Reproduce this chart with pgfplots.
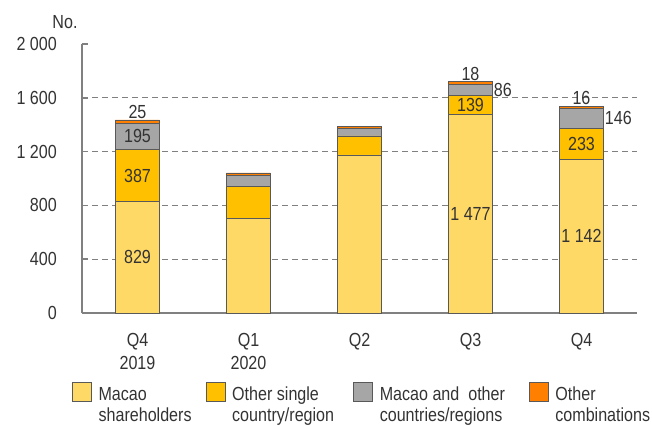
\documentclass[border=0pt]{standalone}
\usepackage{pgfplots}
\pgfplotsset{compat=1.18}
\usepackage{fontspec}
\setmainfont{Liberation Sans}[FakeStretch=0.85]

\definecolor{cMacao}{HTML}{FFD966}
\definecolor{cSingle}{HTML}{FFC000}
\definecolor{cMix}{HTML}{A6A6A6}
\definecolor{cOther}{HTML}{FF8000}
\definecolor{axisgray}{HTML}{808080}
\definecolor{txt}{HTML}{333333}

\newcommand{\lgd}[2]{\parbox[t]{#1}{\raggedright #2}}

\begin{document}
\begin{tikzpicture}[font=\fontsize{19}{23}\selectfont, text=txt]
\useasboundingbox (-82bp,-113bp) rectangle (570bp,313bp);
\begin{axis}[
    at={(0,0)}, anchor=south west,
    scale only axis,
    width=555bp, height=269bp,
    ybar stacked,
    bar width=44bp,
    xmin=-0.5, xmax=4.5,
    ymin=0, ymax=2000,
    axis lines=left,
    axis line style={axisgray, line width=2.2pt, -},
    every tick/.style={axisgray, line width=1.5pt},
    tick align=inside,
    xtick={0,1,2,3,4},
    xticklabels={{Q4\\2019},{Q1\\2020},Q2,Q3,Q4},
    x tick label style={align=center, anchor=north, inner sep=0pt, yshift=-20bp},
    xtick style={draw=none},
    extra x ticks={0.5,1.5,2.5,3.5,4.5},
    extra x tick labels={},
    extra x tick style={major tick length=5bp, tick style={axisgray, line width=1.5pt}},
    ytick={0,400,800,1200,1600,2000},
    major tick length=6bp,
    y tick label style={anchor=east, inner sep=0pt, xshift=-25bp},
    /pgf/number format/1000 sep={\ },
    /pgf/number format/assume math mode=true,
    extra y ticks={400,800,1200,1600},
    extra y tick labels={},
    extra y tick style={grid=major, major tick length=0pt},
    major grid style={axisgray, line width=1.2pt, dash pattern=on 6bp off 4bp},
    legend columns=4,
    legend style={at={(-10bp,-69bp)}, anchor=north west, draw=none, fill=none,
        inner sep=0pt, outer sep=0pt,
        font=\fontsize{19}{21}\selectfont,
        /tikz/every odd column/.append style={column sep=7bp},
        /tikz/every even column/.append style={column sep=0bp},
        nodes={inner sep=0pt, anchor=base west}},
    legend image code/.code={\draw[#1, line width=0.6pt] (0bp,-1bp) rectangle (19bp,18bp);},
]
\addplot[fill=cMacao, draw=black!65, line width=0.7pt] coordinates {(0,829) (1,706) (2,1175) (3,1477) (4,1142)};
\addplot[fill=cSingle, draw=black!65, line width=0.7pt] coordinates {(0,387) (1,232) (2,141) (3,139) (4,233)};
\addplot[fill=cMix, draw=black!65, line width=0.7pt] coordinates {(0,195) (1,82) (2,59) (3,86) (4,146)};
\addplot[fill=cOther, draw=black!65, line width=0.7pt] coordinates {(0,25) (1,22) (2,12) (3,18) (4,16)};
\legend{{\lgd{107bp}{Macao\\shareholders}},{\lgd{121bp}{Other single\\country/region}},{\lgd{149bp}{Macao and\ \ other\\countries/regions}},{\lgd{100bp}{Other\\combinations}}}

\coordinate (a1) at (axis cs:0,414);
\coordinate (a2) at (axis cs:0,1022);
\coordinate (a3) at (axis cs:0,1314);
\coordinate (a4) at (axis cs:0,1436);
\coordinate (b1) at (axis cs:3,738);
\coordinate (b2) at (axis cs:3,1546);
\coordinate (b3) at (axis cs:3.2,1659);
\coordinate (b4) at (axis cs:3,1720);
\coordinate (c1) at (axis cs:4,571);
\coordinate (c2) at (axis cs:4,1258);
\coordinate (c3) at (axis cs:4.2,1448);
\coordinate (c4) at (axis cs:4,1537);
\end{axis}
\node at (a1) {829};
\node at (a2) {387};
\node at (a3) {195};
\node[anchor=south, inner sep=1bp] at (a4) {25};
\node at (b1) {1\ 477};
\node at (b2) {139};
\node[anchor=west, inner sep=1bp] at (b3) {86};
\node[anchor=south, inner sep=1bp] at (b4) {18};
\node at (c1) {1\ 142};
\node at (c2) {233};
\node[anchor=west, inner sep=1bp] at (c3) {146};
\node[anchor=south, inner sep=1bp] at (c4) {16};
\node at (-17bp,291bp) {No.};
\end{tikzpicture}
\end{document}
